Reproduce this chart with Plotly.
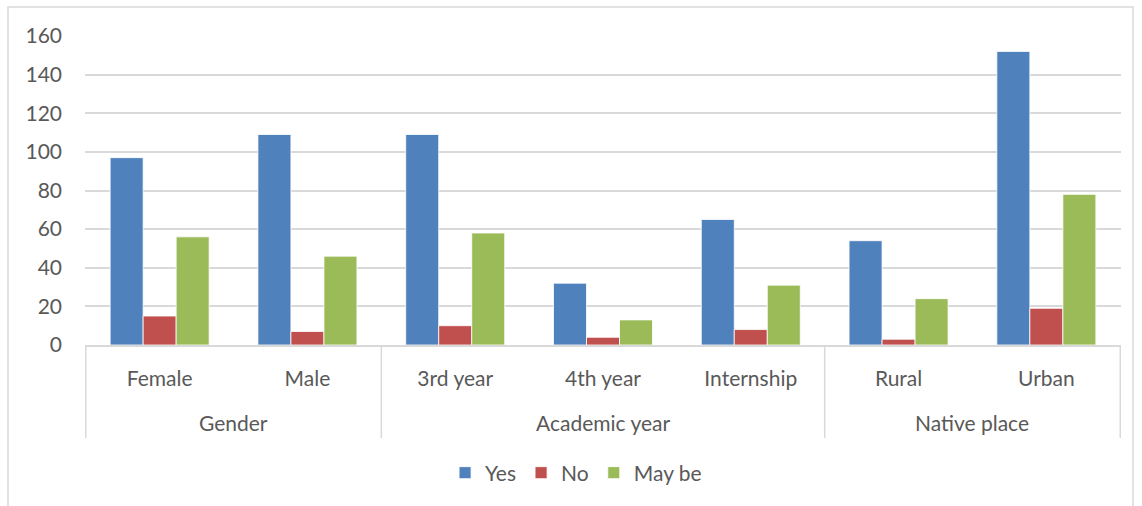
import plotly.graph_objects as go

groups = ["Gender", "Gender", "Academic year", "Academic year", "Academic year", "Native place", "Native place"]
categories = ["Female", "Male", "3rd year", "4th year", "Internship", "Rural", "Urban"]
yes_vals = [97, 109, 109, 32, 65, 54, 152]
no_vals = [15, 7, 10, 4, 8, 3, 19]
maybe_vals = [56, 46, 58, 13, 31, 24, 78]
series_names = ["Yes", "No", "May be"]
colors = ["#4F81BD", "#C0504D", "#9BBB59"]
y_ticks = [0, 20, 40, 60, 80, 100, 120, 140, 160]

FONT = "Lato"
FS = 21
TXT = "#595959"
GRID = "#D9D9D9"

fig = go.Figure()
for name, vals, c in zip(series_names, [yes_vals, no_vals, maybe_vals], colors):
    fig.add_trace(go.Bar(
        x=categories, y=vals, name=name,
        marker=dict(color=c, line=dict(color="white", width=0.8)),
    ))

W, H = 1142, 506
L, R, T, B = 85, 21, 36, 161
pw, ph = W - L - R, H - T - B

def px_x(p):
    return (p - L) / pw

def px_y(p):
    return (H - B - p) / ph

# group spans (index ranges) derived from the groups list
spans = []
for i, g in enumerate(groups):
    if spans and spans[-1][0] == g:
        spans[-1][2] = i
    else:
        spans.append([g, i, i])

shapes = [dict(type="rect", xref="paper", yref="paper",
               x0=px_x(8), x1=px_x(1133), y0=px_y(515), y1=px_y(7),
               line=dict(color=GRID, width=1.5), layer="below")]
annotations = []
bounds = [spans[0][1] - 0.5] + [s[2] + 0.5 for s in spans]
for b in bounds:
    shapes.append(dict(type="line", xref="x", yref="paper", x0=b, x1=b,
                       y0=0, y1=px_y(438), line=dict(color=GRID, width=1.5)))
for g, i0, i1 in spans:
    annotations.append(dict(x=(i0 + i1) / 2, xref="x", y=px_y(422), yref="paper",
                            text=g, showarrow=False, xanchor="center", yanchor="middle",
                            font=dict(family=FONT, size=FS, color=TXT)))

fig.update_layout(
    width=W, height=H,
    margin=dict(l=L, r=R, t=T, b=B),
    paper_bgcolor="white", plot_bgcolor="white",
    barmode="group", bargap=0.33, bargroupgap=0,
    font=dict(family=FONT, size=FS, color=TXT),
    showlegend=True,
    legend=dict(orientation="h", x=0.474, xanchor="center", y=px_y(473), yanchor="middle",
                font=dict(family=FONT, size=FS, color=TXT), itemwidth=30, traceorder="normal"),
    xaxis=dict(
        type="category", showline=True, linecolor=GRID, linewidth=1.5,
        tickfont=dict(family=FONT, size=FS, color=TXT), ticks="",
        ticklabelstandoff=14,
        showgrid=False, zeroline=False,
    ),
    yaxis=dict(
        range=[0, 160], tickvals=y_ticks, showgrid=True, gridcolor=GRID, gridwidth=1.5,
        zeroline=False, showline=False, ticks="", ticklabelstandoff=22,
        tickfont=dict(family=FONT, size=FS, color=TXT),
    ),
    shapes=shapes,
    annotations=annotations,
)

fig.write_html("out.html")
